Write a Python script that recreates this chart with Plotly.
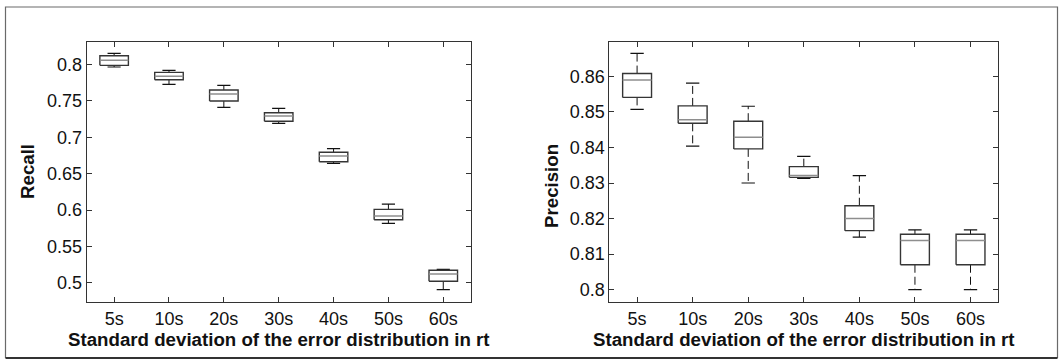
import plotly.graph_objects as go

# Categories (standard deviation of the retention-time error)
categories = ["5s", "10s", "20s", "30s", "40s", "50s", "60s"]

# Recall box statistics
recall_upper = [0.8151, 0.7918, 0.7712, 0.7396, 0.6842, 0.6083, 0.5187]
recall_q3 = [0.8118, 0.7890, 0.7647, 0.7336, 0.6793, 0.6010, 0.5174]
recall_median = [0.8055, 0.7835, 0.7593, 0.7290, 0.6742, 0.5919, 0.5123]
recall_q1 = [0.7986, 0.7789, 0.7496, 0.7218, 0.6664, 0.5868, 0.5023]
recall_lower = [0.7963, 0.7726, 0.7410, 0.7190, 0.6642, 0.5818, 0.4908]

# Precision box statistics
precision_upper = [0.8665, 0.8581, 0.8516, 0.8375, 0.8321, 0.8168, 0.8168]
precision_q3 = [0.8608, 0.8517, 0.8474, 0.8346, 0.8236, 0.8156, 0.8156]
precision_median = [0.8590, 0.8478, 0.8429, 0.8321, 0.8200, 0.8138, 0.8138]
precision_q1 = [0.8541, 0.8468, 0.8396, 0.8316, 0.8166, 0.8070, 0.8070]
precision_lower = [0.8507, 0.8404, 0.8300, 0.8313, 0.8148, 0.8000, 0.8000]

recall_ticks = [0.5, 0.55, 0.6, 0.65, 0.7, 0.75, 0.8]
recall_ticktext = ["0.5", "0.55", "0.6", "0.65", "0.7", "0.75", "0.8"]
precision_ticks = [0.80, 0.81, 0.82, 0.83, 0.84, 0.85, 0.86]
precision_ticktext = ["0.8", "0.81", "0.82", "0.83", "0.84", "0.85", "0.86"]

x_title = "Standard deviation of the error distribution in rt"

FONT = "Arial, 'Liberation Sans', Helvetica, sans-serif"
BOX_HALF = 0.26
CAP_HALF = 0.12
BOX_COLOR = "#353535"
MEDIAN_COLOR = "#8e8e8e"
WHISKER_COLOR = "#111111"


def add_boxplot(fig, upper, q3, med, q1, lower, xa, ya):
    pos = list(range(len(categories)))
    wx, wy, cx, cy, bx, by, mx, my = [], [], [], [], [], [], [], []
    for i in pos:
        # whiskers (dashed) from box edges to the extremes
        wx += [i, i, None, i, i, None]
        wy += [q3[i], upper[i], None, q1[i], lower[i], None]
        # whisker caps
        cx += [i - CAP_HALF, i + CAP_HALF, None, i - CAP_HALF, i + CAP_HALF, None]
        cy += [upper[i], upper[i], None, lower[i], lower[i], None]
        # box outline
        bx += [i - BOX_HALF, i + BOX_HALF, i + BOX_HALF, i - BOX_HALF, i - BOX_HALF, None]
        by += [q1[i], q1[i], q3[i], q3[i], q1[i], None]
        # median
        mx += [i - BOX_HALF, i + BOX_HALF, None]
        my += [med[i], med[i], None]
    common = dict(mode="lines", xaxis=xa, yaxis=ya, showlegend=False, hoverinfo="skip")
    fig.add_trace(go.Scatter(x=wx, y=wy, line=dict(color=WHISKER_COLOR, width=1, dash="8px,4px"), **common))
    fig.add_trace(go.Scatter(x=cx, y=cy, line=dict(color=WHISKER_COLOR, width=1.2), **common))
    fig.add_trace(go.Scatter(x=bx, y=by, line=dict(color=BOX_COLOR, width=1.4), **common))
    fig.add_trace(go.Scatter(x=mx, y=my, line=dict(color=MEDIAN_COLOR, width=1.5), **common))


fig = go.Figure()
add_boxplot(fig, recall_upper, recall_q3, recall_median, recall_q1, recall_lower, "x", "y")
add_boxplot(fig, precision_upper, precision_q3, precision_median, precision_q1, precision_lower, "x2", "y2")

W, H = 1064, 360
axis_common = dict(
    showline=True, linecolor="#333333", linewidth=1, mirror="ticks",
    ticks="inside", ticklen=5, tickcolor="#333333", tickwidth=1,
    showgrid=False, zeroline=False,
    tickfont=dict(family=FONT, size=18, color="#111111"),
)
xaxis_common = dict(
    axis_common, range=[-0.5, 6.5], ticklabelstandoff=1,
    tickvals=list(range(len(categories))), ticktext=categories,
)

left_dom = [86.7 / W, 470.7 / W]
right_dom = [609.3 / W, 998.3 / W]
y_dom = [1 - 301.7 / H, 1 - 42.3 / H]

title_font = dict(family=FONT, size=18.7, color="#111111")

fig.update_layout(
    width=W, height=H,
    margin=dict(l=0, r=0, t=0, b=0),
    paper_bgcolor="white", plot_bgcolor="white",
    xaxis=dict(xaxis_common, domain=left_dom, anchor="y"),
    yaxis=dict(axis_common, domain=y_dom, anchor="x", range=[0.4743, 0.8302],
               tickvals=recall_ticks, ticktext=recall_ticktext),
    xaxis2=dict(xaxis_common, domain=right_dom, anchor="y2"),
    yaxis2=dict(axis_common, domain=y_dom, anchor="x2", range=[0.7966, 0.8696],
                tickvals=precision_ticks, ticktext=precision_ticktext),
    shapes=[
        dict(type="rect", xref="paper", yref="paper",
             x0=5.5 / W, x1=1057.5 / W, y0=1 - 357.5 / H, y1=1 - 7 / H,
             line=dict(color="#6a6a6a", width=1.2), fillcolor="rgba(0,0,0,0)"),
        dict(type="line", xref="paper", yref="paper",
             x0=5.5 / W, x1=1057.5 / W, y0=1 - 358 / H, y1=1 - 358 / H,
             line=dict(color="#333333", width=2)),
    ],
    annotations=[
        dict(text="<b>%s</b>" % x_title, xref="paper", yref="paper",
             x=sum(left_dom) / 2, y=1 - 339 / H, showarrow=False,
             xanchor="center", yanchor="middle", font=title_font),
        dict(text="<b>%s</b>" % x_title, xref="paper", yref="paper",
             x=sum(right_dom) / 2, y=1 - 339 / H, showarrow=False,
             xanchor="center", yanchor="middle", font=title_font),
        dict(text="<b>Recall</b>", xref="paper", yref="paper",
             x=27 / W, y=1 - 172 / H, showarrow=False, textangle=-90,
             xanchor="center", yanchor="middle", font=title_font),
        dict(text="<b>Precision</b>", xref="paper", yref="paper",
             x=551 / W, y=1 - 186 / H, showarrow=False, textangle=-90,
             xanchor="center", yanchor="middle", font=title_font),
    ],
)

fig.write_html("out.html")
